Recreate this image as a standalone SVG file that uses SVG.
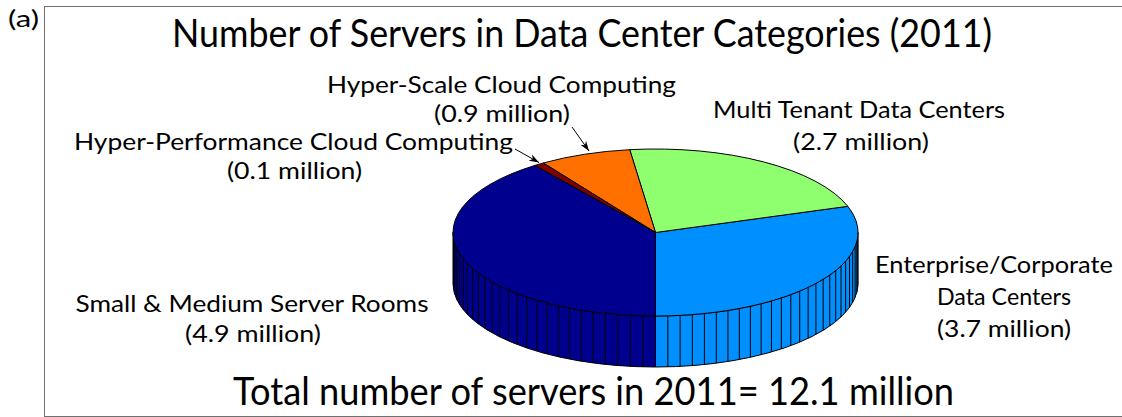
<svg xmlns="http://www.w3.org/2000/svg" width="1122" height="417" viewBox="0 0 1122 417">
<style>
text{font-family:Lato,"Open Sans","Liberation Sans",sans-serif;fill:#000}
.lbl{font-size:24px;text-anchor:middle}
.big{font-size:38px;text-anchor:middle}
.edge{stroke:#000;stroke-width:1;stroke-linejoin:round}
.fac{stroke:#000;stroke-width:1}
.db{fill:#00008F}.lb{fill:#008FFF}.gr{fill:#8FFF70}.or{fill:#FF7000}.dr{fill:#800000}
.arr{stroke:#000;stroke-width:1;fill:none;marker-end:url(#ah)}
</style>
<defs>
<marker id="ah" markerWidth="11" markerHeight="8" refX="10" refY="4" orient="auto" markerUnits="userSpaceOnUse">
<path d="M0,0.5 L10,4 L0,7.5 L3,4 Z" fill="#000"/>
</marker>
</defs>
<rect x="44.5" y="6.5" width="1090" height="410" fill="#fff" stroke="#707070" stroke-width="1"/>
<text x="8" y="27" style="font-size:24px" textLength="31" lengthAdjust="spacingAndGlyphs">(a)</text>
<text id="title" class="big" x="582" y="47" textLength="820" lengthAdjust="spacingAndGlyphs">Number of Servers in Data Center Categories (2011)</text>

<g id="pie-sides">
<path class="db edge" d="M453,232.5 L453,283.5 A202.5,83.5 0 0 0 655.5,367 L655.5,316 A202.5,83.5 0 0 1 453,232.5 Z"/>
<path class="lb edge" d="M655.5,316 L655.5,367 A202.5,83.5 0 0 0 858,283.5 L858,232.5 A202.5,83.5 0 0 1 655.5,316 Z"/>
<path class="fac" d="M453.48,238.25v51M454.75,243.45v51M456.80,248.61v51M459.64,253.70v51M463.23,258.71v51M467.59,263.62v51M472.68,268.41v51M478.49,273.05v51M484.97,277.53v51M492.13,281.84v51M499.91,285.94v51M508.29,289.84v51M517.27,293.52v51M526.76,296.95v51M536.92,300.18v51M547.39,303.11v51M558.31,305.75v51M569.60,308.12v51M581.25,310.19v51M593.17,311.95v51M605.34,313.40v51M617.71,314.53v51M630.22,315.35v51M642.84,315.84v51M655.5,316v51"/>
<path class="fac" d="M667.84,315.84v51M680.13,315.38v51M692.33,314.61v51M704.40,313.53v51M716.29,312.15v51M727.94,310.48v51M739.33,308.51v51M750.38,306.27v51M761.13,303.74v51M771.43,300.96v51M781.33,297.92v51M790.79,294.63v51M799.71,291.12v51M808.12,287.38v51M815.94,283.45v51M823.17,279.32v51M829.78,275.02v51M835.73,270.56v51M841.02,265.96v51M845.63,261.24v51M849.52,256.41v51M852.69,251.49v51M855.13,246.50v51M856.83,241.46v51M857.78,236.39v51"/>
</g>

<g id="slice-enterprise">
<path class="lb edge" d="M655.5,232.5 L655.5,316 A202.5,83.5 0 0 0 847.77,206.30 Z"/>
</g>
<g id="slice-multitenant">
<path class="gr edge" d="M655.5,232.5 L847.77,206.30 A202.5,83.5 0 0 0 629.73,149.68 Z"/>
</g>
<g id="slice-hyperscale">
<path class="or edge" d="M655.5,232.5 L629.73,149.68 A202.5,83.5 0 0 0 543.25,163.00 Z"/>
</g>
<g id="slice-hyperperformance">
<path class="dr edge" d="M655.5,232.5 L543.25,163.00 A202.5,83.5 0 0 0 534.78,165.46 Z"/>
</g>
<g id="slice-smallmedium">
<path class="db edge" d="M655.5,232.5 L534.78,165.46 A202.5,83.5 0 0 0 655.5,316 Z"/>
</g>

<g id="label-hyperscale">
<text class="lbl" x="501.5" y="93" textLength="349" lengthAdjust="spacingAndGlyphs">Hyper-Scale Cloud Computing</text>
<text class="lbl" x="502" y="122" textLength="136" lengthAdjust="spacingAndGlyphs">(0.9 million)</text>
</g>
<g id="label-hyperperformance">
<text class="lbl" x="293.5" y="150" textLength="439" lengthAdjust="spacingAndGlyphs">Hyper-Performance Cloud Computing</text>
<text class="lbl" x="294.5" y="179" textLength="135" lengthAdjust="spacingAndGlyphs">(0.1 million)</text>
</g>
<g id="label-multitenant">
<text class="lbl" x="859" y="118" textLength="292" lengthAdjust="spacingAndGlyphs">Multi Tenant Data Centers</text>
<text class="lbl" x="861" y="150" textLength="136" lengthAdjust="spacingAndGlyphs">(2.7 million)</text>
</g>
<g id="label-enterprise">
<text class="lbl" x="994" y="273" textLength="238" lengthAdjust="spacingAndGlyphs">Enterprise/Corporate</text>
<text class="lbl" x="1004" y="305" textLength="134" lengthAdjust="spacingAndGlyphs">Data Centers</text>
<text class="lbl" x="1004" y="337" textLength="134" lengthAdjust="spacingAndGlyphs">(3.7 million)</text>
</g>
<g id="label-smallmedium">
<text class="lbl" x="252" y="312" textLength="353" lengthAdjust="spacingAndGlyphs">Small &amp; Medium Server Rooms</text>
<text class="lbl" x="253" y="342" textLength="136" lengthAdjust="spacingAndGlyphs">(4.9 million)</text>
</g>

<g id="connectors">
<path class="arr" d="M572,127 L589,151"/>
<path class="arr" d="M515,149 L539,162.5"/>
</g>

<text id="total" class="big" x="593.5" y="405" textLength="721" lengthAdjust="spacingAndGlyphs">Total number of servers in 2011= 12.1 million</text>
</svg>
